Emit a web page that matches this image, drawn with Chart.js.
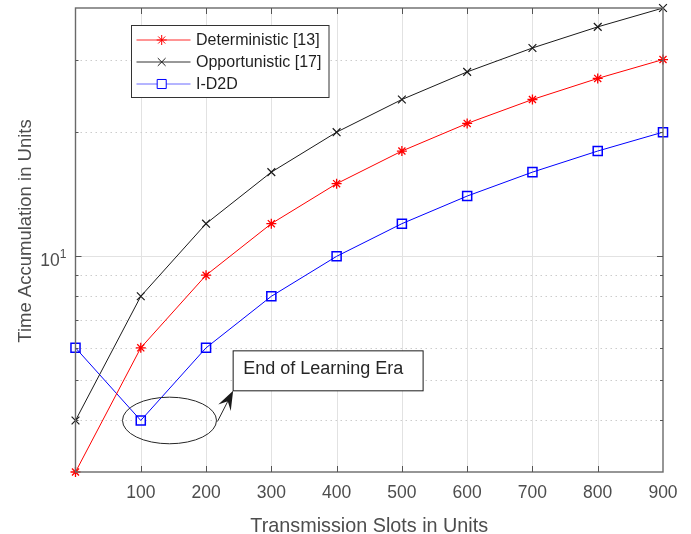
<!DOCTYPE html>
<html>
<head>
<meta charset="utf-8">
<script src="https://cdn.jsdelivr.net/npm/chart.js@4.4.1/dist/chart.umd.min.js"></script>
<style>
  html, body { margin: 0; padding: 0; background: #ffffff; }
  #wrap { width: 691px; height: 534px; }
</style>
</head>
<body>
<div id="wrap"><canvas id="c" width="691" height="534"></canvas></div>
<script>
// Transmission slots (x) and accumulated time per scheme (y, log scale)
const slots = [0, 100, 200, 300, 400, 500, 600, 700, 800, 900];
const deterministic = [3, 6, 9, 12, 15, 18, 21, 24, 27, 30];
const opportunistic = [4, 8, 12, 16, 20, 24, 28, 32, 36, 40];
const id2d = [6, 4, 6, 8, 10, 12, 14, 16, 18, 20];

const seriesNames = ['Deterministic [13]', 'Opportunistic [17]', 'I-D2D'];
const xTickLabels = [100, 200, 300, 400, 500, 600, 700, 800, 900];
const yMajorTicks = [10];
const yMinorTicks = [4, 5, 6, 7, 8, 9, 20, 30];

const X_MIN = 0, X_MAX = 900, Y_MIN = 3, Y_MAX = 40;
const FONT = '"Liberation Sans", Arial, Helvetica, sans-serif';

const toPoints = vals => slots.map((s, i) => ({ x: s, y: vals[i] }));

const styles = [
  { color: '#ff0000', legendLine: '#ff2a2a', pointStyle: 'star', radius: 5, bw: 1.3 },
  { color: '#1a1a1a', legendLine: '#333333', pointStyle: 'crossRot', radius: 5.5, bw: 1.2 },
  { color: '#0000ff', legendLine: '#6b6bff', pointStyle: 'rect', radius: 6.4, bw: 1.5 }
];
const seriesValues = [deterministic, opportunistic, id2d];

const datasets = seriesValues.map((vals, i) => ({
  label: seriesNames[i],
  data: toPoints(vals),
  borderColor: styles[i].color,
  backgroundColor: 'rgba(0,0,0,0)',
  borderWidth: 1,
  tension: 0,
  pointStyle: styles[i].pointStyle,
  pointRadius: styles[i].radius,
  pointHoverRadius: styles[i].radius,
  pointBorderColor: styles[i].color,
  pointBackgroundColor: 'rgba(0,0,0,0)',
  pointBorderWidth: styles[i].bw,
  clip: false
}));

// Grid, box, ticks, labels, legend and the callout, drawn on the chart's scales
const axesPlugin = {
  id: 'axesDecor',
  beforeDatasetsDraw(chart) {
    const { ctx, chartArea: a, scales: { x, y } } = chart;
    ctx.save();
    ctx.lineWidth = 1;
    ctx.strokeStyle = '#e2e2e2';
    xTickLabels.forEach(v => {
      if (v <= X_MIN || v >= X_MAX) return;
      const px = Math.round(x.getPixelForValue(v)) + 0.5;
      ctx.beginPath(); ctx.moveTo(px, a.top); ctx.lineTo(px, a.bottom); ctx.stroke();
    });
    yMajorTicks.forEach(v => {
      const py = Math.round(y.getPixelForValue(v)) + 0.5;
      ctx.beginPath(); ctx.moveTo(a.left, py); ctx.lineTo(a.right, py); ctx.stroke();
    });
    ctx.strokeStyle = '#cccccc';
    ctx.setLineDash([1.5, 3.5]);
    yMinorTicks.forEach(v => {
      const py = Math.round(y.getPixelForValue(v)) + 0.5;
      ctx.beginPath(); ctx.moveTo(a.left, py); ctx.lineTo(a.right, py); ctx.stroke();
    });
    ctx.restore();
  },
  afterDatasetsDraw(chart) {
    const { ctx, chartArea: a, scales: { x, y } } = chart;
    ctx.save();

    // axes box
    ctx.strokeStyle = '#6a6a6a';
    ctx.lineWidth = 1.4;
    ctx.strokeRect(a.left, a.top, a.right - a.left, a.bottom - a.top);

    // inward ticks
    ctx.lineWidth = 1;
    ctx.strokeStyle = '#555555';
    xTickLabels.forEach(v => {
      if (v >= X_MAX) return;
      const px = Math.round(x.getPixelForValue(v)) + 0.5;
      ctx.beginPath();
      ctx.moveTo(px, a.bottom); ctx.lineTo(px, a.bottom - 6);
      ctx.moveTo(px, a.top); ctx.lineTo(px, a.top + 6);
      ctx.stroke();
    });
    yMajorTicks.forEach(v => {
      const py = Math.round(y.getPixelForValue(v)) + 0.5;
      ctx.beginPath();
      ctx.moveTo(a.left, py); ctx.lineTo(a.left + 6, py);
      ctx.moveTo(a.right, py); ctx.lineTo(a.right - 6, py);
      ctx.stroke();
    });
    yMinorTicks.forEach(v => {
      const py = Math.round(y.getPixelForValue(v)) + 0.5;
      ctx.beginPath();
      ctx.moveTo(a.left, py); ctx.lineTo(a.left + 3, py);
      ctx.moveTo(a.right, py); ctx.lineTo(a.right - 3, py);
      ctx.stroke();
    });

    // x tick labels
    ctx.fillStyle = '#4d4d4d';
    ctx.font = '17.5px ' + FONT;
    ctx.textAlign = 'center';
    ctx.textBaseline = 'alphabetic';
    xTickLabels.forEach(v => {
      ctx.fillText(String(v), x.getPixelForValue(v), a.bottom + 26);
    });

    // y tick label 10^1
    yMajorTicks.forEach(v => {
      const py = y.getPixelForValue(v);
      const exp = String(Math.round(Math.log10(v)));
      ctx.font = '12px ' + FONT;
      const ew = ctx.measureText(exp).width;
      ctx.textAlign = 'right';
      ctx.fillText(exp, a.left - 9, py + 2);
      ctx.font = '17.5px ' + FONT;
      ctx.fillText('10', a.left - 9 - ew, py + 10);
    });

    // axis titles
    ctx.textAlign = 'center';
    ctx.fillStyle = '#4d4d4d';
    ctx.font = '19.8px ' + FONT;
    ctx.fillText('Transmission Slots in Units', (a.left + a.right) / 2, a.bottom + 60);
    ctx.save();
    ctx.font = '18.5px ' + FONT;
    ctx.translate(31, 231);
    ctx.rotate(-Math.PI / 2);
    ctx.fillText('Time Accumulation in Units', 0, 0);
    ctx.restore();

    // legend
    const lg = { left: 131.5, top: 25.5, w: 197.5, h: 72 };
    ctx.fillStyle = '#ffffff';
    ctx.fillRect(lg.left, lg.top, lg.w, lg.h);
    ctx.strokeStyle = '#333333';
    ctx.lineWidth = 1;
    ctx.strokeRect(lg.left, lg.top, lg.w, lg.h);
    const rowsY = [40, 62, 84];
    seriesNames.forEach((name, i) => {
      const ry = rowsY[i];
      ctx.strokeStyle = styles[i].legendLine;
      ctx.lineWidth = 1;
      ctx.beginPath(); ctx.moveTo(136.5, ry); ctx.lineTo(190.5, ry); ctx.stroke();
      ctx.fillStyle = '#ffffff';
      ctx.strokeStyle = styles[i].color;
      Chart.helpers.drawPoint(ctx, {
        pointStyle: styles[i].pointStyle, radius: styles[i].radius,
        borderWidth: styles[i].bw, rotation: 0
      }, 161.7, ry);
      ctx.fillStyle = '#1f1f1f';
      ctx.font = '16px ' + FONT;
      ctx.textAlign = 'left';
      ctx.textBaseline = 'middle';
      ctx.fillText(name, 196, ry + 1);
    });

    // callout: ellipse around the I-D2D dip, arrow, and text box
    const cx = x.getPixelForValue(144), cy = y.getPixelForValue(4);
    ctx.strokeStyle = '#262626';
    ctx.lineWidth = 1;
    ctx.beginPath();
    ctx.ellipse(cx, cy, 47, 23.3, 0, 0, Math.PI * 2);
    ctx.stroke();

    const bx0 = x.getPixelForValue(241.5), bx1 = x.getPixelForValue(532.5);
    const by0 = y.getPixelForValue(5.9), by1 = y.getPixelForValue(4.72);
    const sx = cx + 48, sy = cy + 1;
    const tx = bx0, ty = by1;
    const dx = tx - sx, dy = ty - sy, len = Math.hypot(dx, dy);
    const ux = dx / len, uy = dy / len, nx = -uy, ny = ux;
    const L = 19, W = 7;
    ctx.beginPath(); ctx.moveTo(sx, sy); ctx.lineTo(tx - ux * 10, ty - uy * 10); ctx.stroke();
    ctx.fillStyle = '#1a1a1a';
    ctx.beginPath();
    ctx.moveTo(tx, ty);
    ctx.lineTo(tx - ux * L + nx * W, ty - uy * L + ny * W);
    ctx.lineTo(tx - ux * L * 0.62, ty - uy * L * 0.62);
    ctx.lineTo(tx - ux * L - nx * W, ty - uy * L - ny * W);
    ctx.closePath();
    ctx.fill();

    ctx.fillStyle = '#ffffff';
    ctx.fillRect(bx0, by0, bx1 - bx0, by1 - by0);
    ctx.strokeStyle = '#1a1a1a';
    ctx.strokeRect(bx0, by0, bx1 - bx0, by1 - by0);
    ctx.fillStyle = '#262626';
    ctx.font = '18px ' + FONT;
    ctx.textAlign = 'left';
    ctx.textBaseline = 'alphabetic';
    ctx.fillText('End of Learning Era', bx0 + 10, by1 - 16.5);

    ctx.restore();
  }
};

new Chart(document.getElementById('c'), {
  type: 'line',
  data: { datasets },
  options: {
    responsive: false,
    animation: false,
    layout: { padding: { left: 75.5, right: 28, top: 8, bottom: 62 } },
    plugins: { legend: { display: false }, tooltip: { enabled: false } },
    scales: {
      x: { type: 'linear', min: X_MIN, max: X_MAX, display: false },
      y: { type: 'logarithmic', min: Y_MIN, max: Y_MAX, display: false }
    }
  },
  plugins: [axesPlugin]
});
</script>
</body>
</html>
